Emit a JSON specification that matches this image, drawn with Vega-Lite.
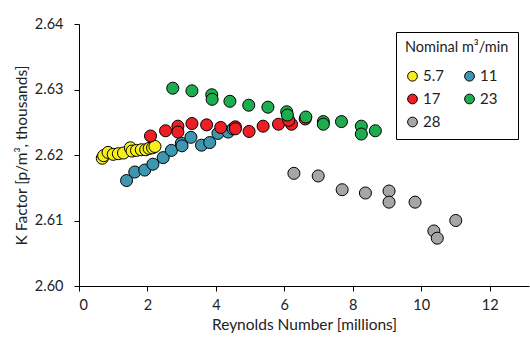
{
  "$schema": "https://vega.github.io/schema/vega-lite/v6.json",
  "width": 450,
  "height": 262,
  "autosize": "none",
  "padding": {"left": 79, "top": 24, "right": 1, "bottom": 54},
  "background": "white",
  "config": {
    "view": {"stroke": null},
    "font": "Lato"
  },
  "data": {
    "values": [
      {"re": 0.68, "k": 2.6195, "flow": "5.7"},
      {"re": 0.72, "k": 2.6199, "flow": "5.7"},
      {"re": 0.85, "k": 2.6204, "flow": "5.7"},
      {"re": 1.0, "k": 2.6201, "flow": "5.7"},
      {"re": 1.15, "k": 2.6202, "flow": "5.7"},
      {"re": 1.3, "k": 2.6203, "flow": "5.7"},
      {"re": 1.5, "k": 2.6211, "flow": "5.7"},
      {"re": 1.55, "k": 2.6206, "flow": "5.7"},
      {"re": 1.68, "k": 2.6207, "flow": "5.7"},
      {"re": 1.82, "k": 2.6208, "flow": "5.7"},
      {"re": 1.95, "k": 2.6208, "flow": "5.7"},
      {"re": 2.05, "k": 2.6210, "flow": "5.7"},
      {"re": 2.15, "k": 2.6211, "flow": "5.7"},
      {"re": 2.22, "k": 2.6213, "flow": "5.7"},
      {"re": 1.39, "k": 2.6161, "flow": "11"},
      {"re": 1.63, "k": 2.6174, "flow": "11"},
      {"re": 1.92, "k": 2.6177, "flow": "11"},
      {"re": 2.16, "k": 2.6186, "flow": "11"},
      {"re": 2.46, "k": 2.6196, "flow": "11"},
      {"re": 2.70, "k": 2.6207, "flow": "11"},
      {"re": 2.99, "k": 2.6218, "flow": "11"},
      {"re": 3.01, "k": 2.6214, "flow": "11"},
      {"re": 3.27, "k": 2.6227, "flow": "11"},
      {"re": 3.58, "k": 2.6215, "flow": "11"},
      {"re": 3.82, "k": 2.6219, "flow": "11"},
      {"re": 4.06, "k": 2.6233, "flow": "11"},
      {"re": 4.36, "k": 2.6235, "flow": "11"},
      {"re": 4.5, "k": 2.6240, "flow": "11"},
      {"re": 2.09, "k": 2.6229, "flow": "17"},
      {"re": 2.53, "k": 2.6237, "flow": "17"},
      {"re": 2.89, "k": 2.6244, "flow": "17"},
      {"re": 2.89, "k": 2.6235, "flow": "17"},
      {"re": 3.30, "k": 2.6248, "flow": "17"},
      {"re": 3.73, "k": 2.6246, "flow": "17"},
      {"re": 4.14, "k": 2.6242, "flow": "17"},
      {"re": 4.57, "k": 2.6243, "flow": "17"},
      {"re": 4.57, "k": 2.6240, "flow": "17"},
      {"re": 4.97, "k": 2.6236, "flow": "17"},
      {"re": 5.38, "k": 2.6244, "flow": "17"},
      {"re": 5.83, "k": 2.6247, "flow": "17"},
      {"re": 6.21, "k": 2.6247, "flow": "17"},
      {"re": 6.13, "k": 2.6253, "flow": "17"},
      {"re": 6.61, "k": 2.6255, "flow": "17"},
      {"re": 2.74, "k": 2.6302, "flow": "23"},
      {"re": 3.30, "k": 2.6298, "flow": "23"},
      {"re": 3.88, "k": 2.6292, "flow": "23"},
      {"re": 3.89, "k": 2.6285, "flow": "23"},
      {"re": 4.41, "k": 2.6282, "flow": "23"},
      {"re": 4.96, "k": 2.6276, "flow": "23"},
      {"re": 5.52, "k": 2.6273, "flow": "23"},
      {"re": 6.07, "k": 2.6266, "flow": "23"},
      {"re": 6.09, "k": 2.6261, "flow": "23"},
      {"re": 6.63, "k": 2.6258, "flow": "23"},
      {"re": 7.14, "k": 2.6251, "flow": "23"},
      {"re": 7.14, "k": 2.6247, "flow": "23"},
      {"re": 7.67, "k": 2.6251, "flow": "23"},
      {"re": 8.25, "k": 2.6244, "flow": "23"},
      {"re": 8.25, "k": 2.6232, "flow": "23"},
      {"re": 8.66, "k": 2.6237, "flow": "23"},
      {"re": 6.28, "k": 2.6172, "flow": "28"},
      {"re": 6.99, "k": 2.6168, "flow": "28"},
      {"re": 7.69, "k": 2.6147, "flow": "28"},
      {"re": 8.37, "k": 2.6142, "flow": "28"},
      {"re": 9.06, "k": 2.6145, "flow": "28"},
      {"re": 9.06, "k": 2.6128, "flow": "28"},
      {"re": 9.82, "k": 2.6128, "flow": "28"},
      {"re": 10.37, "k": 2.6084, "flow": "28"},
      {"re": 10.47, "k": 2.6073, "flow": "28"},
      {"re": 11.01, "k": 2.6100, "flow": "28"}
    ]
  },
  "mark": {"type": "point", "filled": true, "opacity": 1, "stroke": "black", "strokeWidth": 1, "size": 145},
  "encoding": {
    "x": {
      "field": "re", "type": "quantitative",
      "scale": {"domain": [0, 13.15], "nice": false, "zero": false},
      "axis": {
        "title": "Reynolds Number [millions]",
        "values": [0, 2, 4, 6, 8, 10, 12],
        "grid": false,
        "domainColor": "black", "domainWidth": 1,
        "tickColor": "black", "tickSize": 5,
        "labelFont": "Lato", "labelFontSize": 14.5, "labelColor": "#222",
        "labelPadding": 7,
        "titleFont": "Lato", "titleFontSize": 15.5, "titleFontWeight": "normal", "titleColor": "#222",
        "titlePadding": 6
      }
    },
    "y": {
      "field": "k", "type": "quantitative",
      "scale": {"domain": [2.60, 2.64], "nice": false, "zero": false},
      "axis": {
        "title": "K Factor [p/m³, thousands]",
        "values": [2.60, 2.61, 2.62, 2.63, 2.64],
        "format": ".2f",
        "grid": false,
        "domainColor": "black", "domainWidth": 1,
        "tickColor": "black", "tickSize": 5,
        "labelFont": "Lato", "labelFontSize": 14.5, "labelColor": "#222",
        "labelPadding": 11,
        "titleFont": "Lato", "titleFontSize": 15.5, "titleFontWeight": "normal", "titleColor": "#222",
        "titlePadding": 5
      }
    },
    "color": {
      "field": "flow", "type": "nominal",
      "scale": {
        "domain": ["5.7", "17", "28", "11", "23"],
        "range": ["#F6EE1D", "#EE1E25", "#A6A6A6", "#3D97B0", "#1DAD4E"]
      },
      "legend": {
        "title": "Nominal m³/min",
        "orient": "none",
        "legendX": 317,
        "legendY": 8,
        "columns": 2,
        "columnPadding": 18,
        "rowPadding": 7,
        "padding": 9,
        "strokeColor": "black",
        "fillColor": "white",
        "symbolType": "circle",
        "symbolSize": 95,
        "symbolStrokeColor": "black",
        "symbolStrokeWidth": 1,
        "symbolOpacity": 1,
        "labelFont": "Lato", "labelFontSize": 15, "labelColor": "#222",
        "labelOffset": 3,
        "titleFont": "Lato", "titleFontSize": 14.5, "titleFontWeight": "normal", "titleColor": "#222",
        "titlePadding": 13
      }
    }
  }
}
